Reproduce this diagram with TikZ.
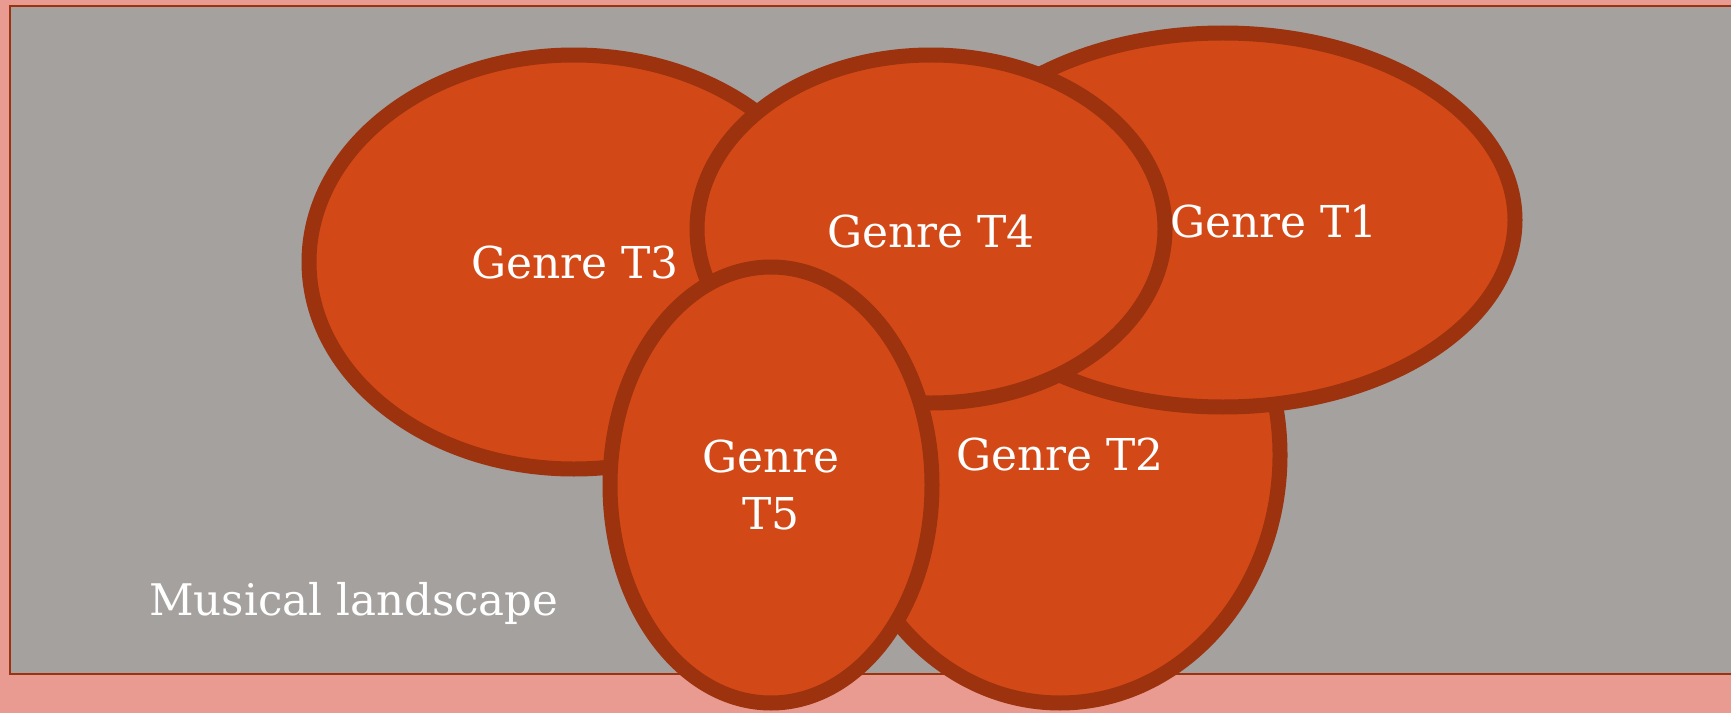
\documentclass[tikz,border=0pt]{standalone}
\usepackage{fontspec}
\setmainfont{DejaVu Serif}
\usepackage{tikz}
\usetikzlibrary{calc}

\definecolor{slidepink}{RGB}{234,155,145}
\definecolor{landgray}{RGB}{165,161,159}
\definecolor{genrefill}{RGB}{210,73,23}
\definecolor{genreline}{RGB}{156,50,14}

\tikzset{
  genre/.style={fill=genrefill, draw=genreline, line width=0.3cm},
  genrename/.style={text=white, font=\fontsize{25}{32}\selectfont, align=center},
}

\begin{document}
\begin{tikzpicture}[x=0.02cm,y=-0.02cm]
  \useasboundingbox (0,0) rectangle (1731,713);
  \fill [slidepink] (0,0) rectangle (1731,713);
  \fill [landgray] (10,6) rectangle (1731,674);
  \draw [genreline, line width=0.04cm] (1731,6) -- (10,6) -- (10,674) -- (1731,674);
  \node [text=white, font=\fontsize{24.8}{30}\selectfont, anchor=west] (land) at (143,603) {Musical landscape};
  % the five genres
  \coordinate (t2) at (1060,455);
  \draw [genre] (t2) ellipse [x radius=220, y radius=248];
  \coordinate (t1) at (1223,220);
  \draw [genre] (t1) ellipse [x radius=292, y radius=187];
  \coordinate (t3) at (574,262);
  \draw [genre] (t3) ellipse [x radius=265, y radius=207];
  \coordinate (t4) at (931,229);
  \draw [genre] (t4) ellipse [x radius=234, y radius=174];
  \coordinate (t5) at (771,485);
  \draw [genre] (t5) ellipse [x radius=161, y radius=218];
  \node [genrename] (t1name) at (1274,222) {Genre T1};
  \node [genrename] (t2name) at (t2) {Genre T2};
  \node [genrename] (t3name) at ($ (t3)+(1,1) $) {Genre T3};
  \node [genrename] (t4name) at ($ (t4)+(0,3) $) {Genre T4};
  \node [genrename] (t5name) at (t5) {Genre\\T5};
\end{tikzpicture}
\end{document}
